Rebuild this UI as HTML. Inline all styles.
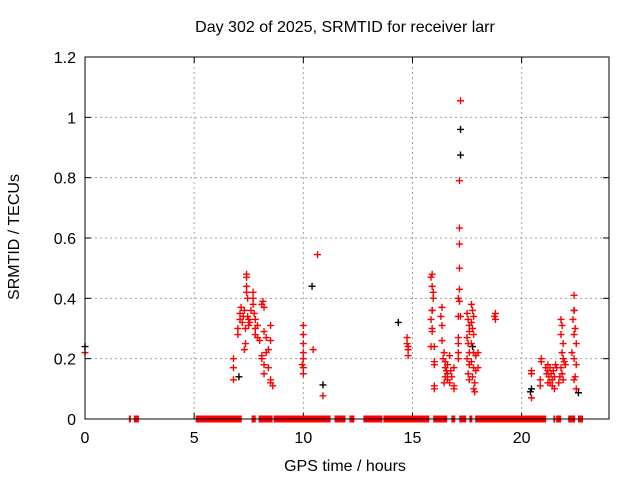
<!DOCTYPE html>
<html><head><meta charset="utf-8"><style>
body{margin:0;background:#fff}
svg{display:block;font-family:"Liberation Sans",sans-serif}
</style></head><body>
<svg id="chart" width="640" height="480">
<text x="345" y="32" font-size="16" text-anchor="middle">Day 302 of 2025, SRMTID for receiver larr</text>
<text x="345" y="471" font-size="16" text-anchor="middle">GPS time / hours</text>
<text transform="translate(19,237) rotate(-90)" font-size="16" text-anchor="middle">SRMTID / TECUs</text>
<g id="grid"></g><g id="ticks"></g><g id="marks"></g>
<rect x="85" y="57" width="524" height="362" fill="none" stroke="#000" stroke-width="1"/>
</svg>
<script>
const xTicks=[0,5,10,15,20];
const yTicks=[0,0.2,0.4,0.6,0.8,1,1.2];
const yTickLabels=["0","0.2","0.4","0.6","0.8","1","1.2"];
const redPoints=[[0,0.22],
[6.8,0.20],[6.8,0.17],[6.8,0.13],[7.0,0.28],[7.0,0.3],[7.1,0.33],[7.1,0.35],[7.15,0.37],[7.2,0.32],[7.25,0.34],[7.3,0.36],[7.35,0.3],[7.35,0.25],[7.3,0.23],[7.4,0.48],[7.4,0.47],[7.4,0.44],[7.4,0.42],[7.45,0.40],[7.45,0.34],[7.5,0.31],[7.5,0.33],[7.55,0.32],[7.6,0.36],[7.7,0.42],[7.7,0.40],[7.7,0.38],[7.75,0.35],[7.8,0.33],[7.8,0.30],[7.8,0.28],[7.9,0.27],[7.9,0.31],[8.0,0.26],[8.1,0.38],[8.15,0.39],[8.2,0.37],[8.2,0.29],[8.3,0.27],[8.1,0.21],[8.1,0.2],[8.2,0.18],[8.2,0.15],[8.3,0.22],[8.4,0.23],[8.5,0.31],[8.5,0.26],[8.4,0.17],[8.5,0.13],[8.6,0.11],[8.5,0.12],
[10,0.31],[10,0.28],[10,0.25],[10,0.22],[10,0.2],[9.95,0.18],[10,0.17],[10,0.15],[10.45,0.23],[10.65,0.545],[10.9,0.077],
[14.8,0.24],[14.75,0.27],[14.75,0.25],[14.8,0.23],[14.8,0.21],
[15.9,0.48],[15.85,0.47],[15.9,0.44],[15.95,0.42],[15.95,0.40],[15.9,0.36],[15.85,0.33],[15.9,0.30],[15.9,0.29],[15.85,0.24],[16.0,0.24],[16.0,0.19],[16.0,0.18],[16.0,0.11],[16.0,0.10],
[16.35,0.37],[16.3,0.34],[16.35,0.31],[16.35,0.26],[16.45,0.22],[16.4,0.2],[16.5,0.19],[16.5,0.17],[16.55,0.16],[16.6,0.15],[16.5,0.14],[16.6,0.13],[16.7,0.12],[16.6,0.18],[16.7,0.21],[16.75,0.16],[16.8,0.14],[16.45,0.12],[16.9,0.11],[16.9,0.10],
[17.2,1.055],[17.15,0.79],[17.15,0.633],[17.15,0.58],[17.15,0.50],[17.15,0.43],[17.1,0.40],[17.15,0.39],[17.1,0.34],[17.2,0.34],[17.1,0.27],[17.1,0.25],[17.1,0.22],[17.1,0.2],[16.9,0.17],
[17.5,0.35],[17.55,0.33],[17.6,0.31],[17.6,0.29],[17.5,0.27],[17.55,0.25],[17.6,0.22],[17.5,0.2],[17.6,0.18],[17.55,0.15],[17.6,0.13],[17.7,0.38],[17.75,0.36],[17.8,0.34],[17.7,0.32],[17.75,0.30],[17.8,0.28],[17.7,0.25],[17.8,0.22],[17.9,0.21],[17.7,0.19],[17.8,0.17],[17.9,0.16],[17.75,0.14],[17.85,0.12],[17.8,0.10],[17.85,0.09],[18.0,0.22],[18.0,0.17],
[18.8,0.35],[18.75,0.34],[18.8,0.33],
[20.45,0.16],[20.45,0.15],[20.45,0.07],[20.9,0.2],[20.9,0.19],[20.85,0.13],[20.85,0.11],
[21.1,0.17],[21.15,0.15],[21.2,0.18],[21.2,0.16],[21.25,0.14],[21.3,0.17],[21.3,0.12],[21.35,0.15],[21.4,0.13],[21.4,0.11],[21.45,0.16],[21.5,0.1],[21.5,0.14],[21.55,0.18],[21.6,0.17],[21.2,0.12],
[21.8,0.33],[21.85,0.31],[21.8,0.28],[21.9,0.25],[21.85,0.22],[21.9,0.2],[21.95,0.19],[21.8,0.17],[21.85,0.15],[21.9,0.13],[21.75,0.14],[22.0,0.18],[21.7,0.12],
[22.4,0.41],[22.4,0.36],[22.45,0.3],[22.4,0.28],[22.5,0.25],[22.4,0.2],[22.5,0.18],[22.45,0.14],[22.4,0.13],[22.5,0.1],[22.3,0.22],[22.35,0.33]];
const blackPoints=[[0,0.24],[7.05,0.14],[10.4,0.44],[10.9,0.113],[14.35,0.32],[17.2,0.96],[17.2,0.875],[20.45,0.1],[20.4,0.09],[22.6,0.087],[15.9,0.36],[22.4,0.36],[17.75,0.24]];
const zeroSpanStarts=[2.01,2.24,5.07,7.63,7.95,8.64,11.43,12.11,12.75,13.67,15.95,16.78,17.14,17.6,17.87,21.45,21.58,22.13,22.58];
const zeroSpanEnds=[2.10,2.47,7.18,7.82,8.59,11.25,11.93,12.34,13.62,15.77,16.59,16.96,17.46,17.74,21.12,21.52,21.81,22.45,22.81];

const X0=85,X1=609,Y0=419,Y1=57,XMAX=24,YMAX=1.2;
const xs=h=>X0+h/XMAX*(X1-X0);
const ys=v=>Y0-v/YMAX*(Y0-Y1);
const NS="http://www.w3.org/2000/svg";
const grid=document.getElementById('grid'),ticks=document.getElementById('ticks'),marks=document.getElementById('marks');
function mk(tag,attrs,parent){const e=document.createElementNS(NS,tag);for(const k in attrs)e.setAttribute(k,attrs[k]);parent.appendChild(e);return e;}
xTicks.forEach(t=>{
  const x=xs(t);
  if(t>0){const g=mk('line',{x1:x,x2:x,y1:Y1,y2:Y0,stroke:'#a0a0a0','stroke-dasharray':'2,3'},grid);
  
  }
  mk('line',{x1:x,x2:x,y1:Y0,y2:Y0-6,stroke:'#000'},ticks);
  mk('line',{x1:x,x2:x,y1:Y1,y2:Y1+6,stroke:'#000'},ticks);
  const l=mk('text',{x:x,y:Y0+24,'font-size':16,'text-anchor':'middle'},ticks);
  l.textContent=String(t);
  
  
});
yTicks.forEach((t,i)=>{
  const y=ys(t);
  if(t>0&&t<YMAX){const g=mk('line',{x1:X0,x2:X1,y1:y,y2:y,stroke:'#a0a0a0','stroke-dasharray':'2,3'},grid);
  
  }
  mk('line',{x1:X0,x2:X0+6,y1:y,y2:y,stroke:'#000'},ticks);
  mk('line',{x1:X1,x2:X1-6,y1:y,y2:y,stroke:'#000'},ticks);
  const l=mk('text',{x:X0-9,y:y+6,'font-size':16,'text-anchor':'end'},ticks);
  l.textContent=yTickLabels[i];
  
  
});
function plus(h,v,color,name){
  const x=xs(h),y=ys(v);
  const p=mk('path',{d:`M${x-3.5} ${y}H${x+3.5}M${x} ${y-3.5}V${y+3.5}`,stroke:color,'stroke-width':1.4,fill:'none'},marks);
  
  
}
blackPoints.forEach(p=>plus(p[0],p[1],'#000','black-point'));
redPoints.forEach(p=>plus(p[0],p[1],'#f00','red-point'));
zeroSpanStarts.forEach((s,i)=>{
  const x1=xs(s),x2=xs(zeroSpanEnds[i]);
  const r=mk('rect',{x:x1,y:ys(0)-3.5,width:Math.max(2,x2-x1),height:7,fill:'#f00'},marks);
  
  
});
mk('line',{x1:X0,x2:X1,y1:Y0,y2:Y0,stroke:'#000'},marks);
</script>
</body></html>
